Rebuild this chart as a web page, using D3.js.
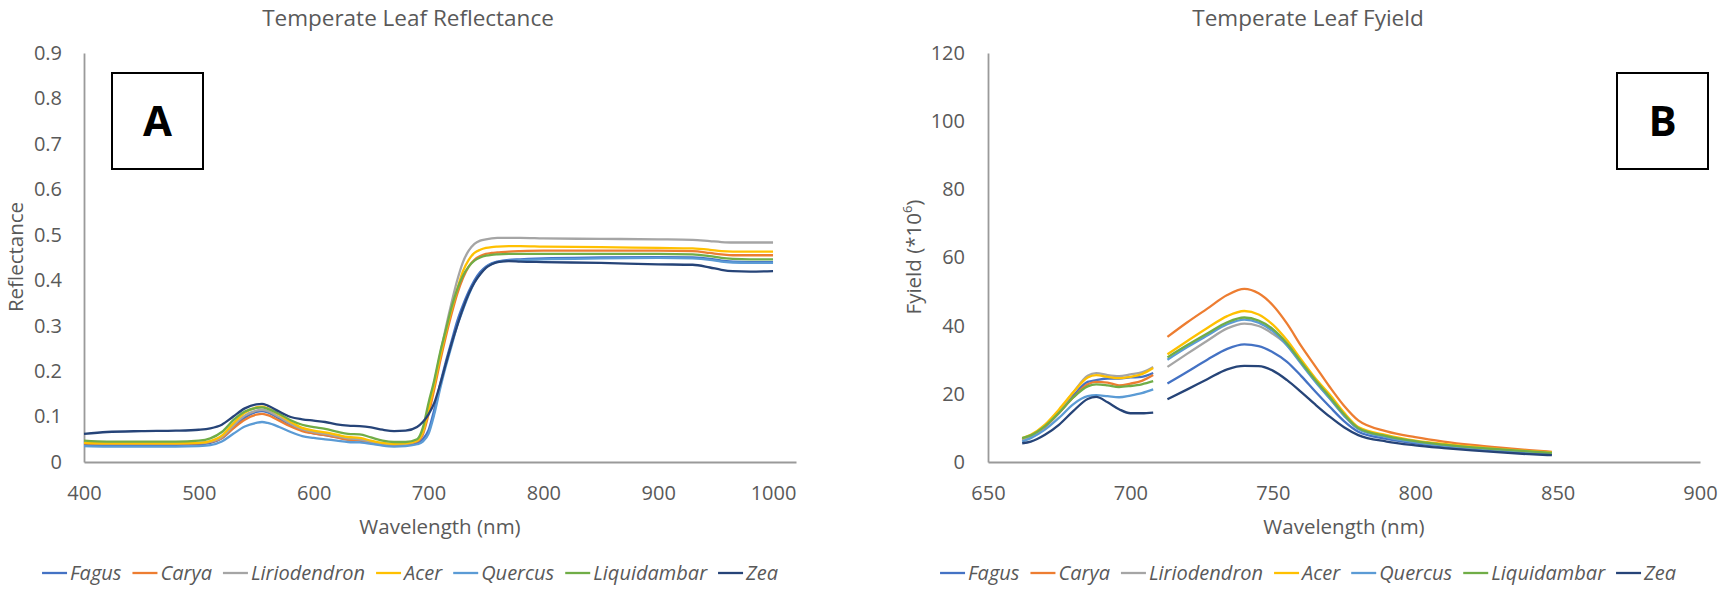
<!DOCTYPE html>
<html>
<head>
<meta charset="utf-8">
<script src="https://cdn.jsdelivr.net/npm/d3@7"></script>
<style>
  body { margin: 0; background: #fff; }
  text { font-family: "Open Sans", sans-serif; fill: #595959; }
  .axis path { stroke: #9a9a9a; stroke-width: 1.8; }
  .axis text { font-size: 20px; }
</style>
</head>
<body>
<svg id="fig" width="1720" height="605"></svg>
<script>
// species + Excel default series colours
const species = ["Fagus", "Carya", "Liriodendron", "Acer", "Quercus", "Liquidambar", "Zea"];
const speciesColor = ["#4472C4", "#ED7D31", "#A5A5A5", "#FFC000", "#5B9BD5", "#70AD47", "#264478"];

// Panel A: reflectance vs wavelength (nm)
const reflWl = [400,420,450,480,500, 510,520,530,540,550, 555,560,570,580,590, 600,610,620,630,640,
  650,660,670,680,690, 695,700,705,710,715, 720,725,730,735,740, 745,750,755,760,770,
  780,800,850,900,930, 945,955,965,980,1000];
const reflFagus = [0.038,0.038,0.038,0.038,0.039, 0.042,0.052,0.075,0.098,0.110, 0.112,0.109,0.096,0.082,0.070, 0.063,0.059,0.055,0.050,0.047,
  0.043,0.039,0.037,0.038,0.042, 0.050,0.070,0.115,0.170,0.220, 0.265,0.310,0.345,0.375,0.400, 0.418,0.430,0.437,0.441,0.445,
  0.446,0.448,0.450,0.451,0.450, 0.447,0.443,0.441,0.440,0.440];
const reflCarya = [0.041,0.040,0.040,0.040,0.041, 0.044,0.053,0.074,0.093,0.104, 0.106,0.103,0.091,0.078,0.068, 0.063,0.059,0.054,0.049,0.048,
  0.044,0.040,0.038,0.039,0.045, 0.060,0.105,0.160,0.220,0.275, 0.325,0.370,0.405,0.430,0.445, 0.453,0.458,0.460,0.461,0.463,
  0.464,0.465,0.465,0.465,0.464, 0.460,0.457,0.455,0.455,0.455];
const reflLiriodendron = [0.042,0.041,0.041,0.041,0.042, 0.045,0.055,0.080,0.102,0.113, 0.115,0.112,0.099,0.084,0.072, 0.066,0.062,0.057,0.052,0.050,
  0.045,0.041,0.039,0.040,0.047, 0.065,0.120,0.175,0.235,0.295, 0.350,0.400,0.440,0.465,0.480, 0.487,0.490,0.492,0.493,0.493,
  0.493,0.492,0.491,0.490,0.489, 0.486,0.484,0.483,0.483,0.483];
const reflAcer = [0.042,0.041,0.041,0.041,0.042, 0.046,0.058,0.085,0.108,0.120, 0.122,0.118,0.104,0.088,0.075, 0.069,0.065,0.060,0.055,0.053,
  0.047,0.042,0.040,0.041,0.047, 0.065,0.115,0.170,0.230,0.285, 0.335,0.380,0.420,0.445,0.460, 0.467,0.471,0.473,0.474,0.475,
  0.475,0.474,0.473,0.471,0.470, 0.467,0.464,0.463,0.463,0.463];
const reflQuercus = [0.035,0.034,0.034,0.034,0.035, 0.037,0.045,0.062,0.078,0.086, 0.088,0.086,0.077,0.066,0.057, 0.053,0.050,0.047,0.044,0.043,
  0.040,0.036,0.034,0.035,0.039, 0.045,0.062,0.105,0.160,0.210, 0.255,0.300,0.335,0.368,0.395, 0.414,0.428,0.436,0.440,0.443,
  0.444,0.446,0.448,0.449,0.448, 0.445,0.441,0.439,0.438,0.438];
const reflLiquidambar = [0.047,0.045,0.045,0.045,0.047, 0.052,0.066,0.092,0.111,0.119, 0.120,0.117,0.106,0.092,0.082, 0.077,0.073,0.067,0.062,0.061,
  0.054,0.047,0.044,0.044,0.050, 0.075,0.130,0.180,0.240,0.290, 0.340,0.380,0.410,0.430,0.443, 0.450,0.454,0.456,0.457,0.458,
  0.458,0.458,0.458,0.458,0.457, 0.453,0.449,0.447,0.446,0.446];
const reflZea = [0.062,0.066,0.068,0.069,0.071, 0.074,0.082,0.100,0.118,0.127, 0.128,0.124,0.111,0.099,0.094, 0.091,0.088,0.083,0.080,0.079,
  0.076,0.071,0.068,0.069,0.077, 0.088,0.105,0.130,0.170,0.215, 0.260,0.300,0.338,0.370,0.395, 0.413,0.427,0.435,0.440,0.442,
  0.441,0.440,0.438,0.435,0.434, 0.428,0.423,0.420,0.419,0.420];

// Panel B: Fyield (*10^6); null marks the gap in the spectrum
const fyWl = [662,665,670,675,680,685,688,692,696,700,704,708, 710.5,
  713,720,727,734,740,745,750,755,760,765,770,775,780,790,800,810,820,830,840,848];
const fyFagus = [6.5,7.5,10.3,14.5,19.5,23.5,24.0,24.5,24.5,24.8,25.0,26.1, null,
  23.0,26.5,30.0,33.2,34.5,34.0,32.2,29.4,25.2,20.6,16.2,12.0,8.9,6.8,5.5,4.6,3.9,3.3,2.8,2.3];
const fyCarya = [6.5,7.5,10.3,14.5,19.0,22.8,23.5,23.3,22.5,23.0,23.8,25.5, null,
  36.7,41.0,45.0,49.0,50.8,49.5,46.0,40.6,34.0,28.0,22.0,16.5,12.2,9.0,7.3,6.0,5.0,4.2,3.5,3.0];
const fyLiriodendron = [6.5,7.5,10.5,15.0,20.5,25.3,26.1,25.5,25.2,25.7,26.3,27.9, null,
  27.9,31.8,35.6,39.2,40.6,39.9,37.6,34.3,29.0,23.7,18.7,13.7,9.8,7.4,5.9,4.9,4.2,3.6,3.0,2.6];
const fyAcer = [7.0,8.0,11.0,15.5,20.5,24.8,25.5,25.0,24.6,25.0,25.8,27.6, null,
  31.6,35.5,39.3,42.8,44.3,43.3,40.3,35.7,30.0,24.5,19.8,14.5,10.3,7.9,6.3,5.3,4.5,3.8,3.2,2.8];
const fyQuercus = [6.0,7.0,9.5,13.0,17.0,19.3,19.6,19.3,19.0,19.5,20.2,21.3, null,
  30.0,33.7,37.1,40.4,41.8,40.9,38.4,34.2,28.8,23.5,18.6,13.6,9.7,7.3,5.8,4.8,4.1,3.5,2.9,2.5];
const fyLiquidambar = [7.0,7.8,10.5,14.5,19.0,22.2,22.8,22.5,22.0,22.3,22.8,23.7, null,
  30.7,34.3,37.7,41.0,42.4,41.5,39.0,34.8,29.3,24.0,19.1,14.0,10.0,7.6,6.1,5.1,4.3,3.7,3.1,2.7];
const fyZea = [5.5,6.0,8.0,11.0,15.0,18.5,19.1,17.5,15.5,14.3,14.3,14.5, null,
  18.4,21.3,24.3,27.2,28.2,28.1,26.8,24.0,20.5,16.8,13.3,10.2,7.9,6.0,4.9,4.1,3.4,2.8,2.3,2.0];

const reflTicksX = [400, 500, 600, 700, 800, 900, 1000];
const reflTicksY = [0, 0.1, 0.2, 0.3, 0.4, 0.5, 0.6, 0.7, 0.8, 0.9];
const fyTicksX = [650, 700, 750, 800, 850, 900];
const fyTicksY = [0, 20, 40, 60, 80, 100, 120];

const reflSeries = [reflFagus, reflCarya, reflLiriodendron, reflAcer, reflQuercus, reflLiquidambar, reflZea];
const fySeries = [fyFagus, fyCarya, fyLiriodendron, fyAcer, fyQuercus, fyLiquidambar, fyZea];

const svg = d3.select("#fig");

function panel(opt) {
  const x = d3.scaleLinear().domain(opt.xDomain).range([opt.left, opt.right]);
  const y = d3.scaleLinear().domain(opt.yDomain).range([462, 53]);

  svg.append("g").attr("class", "axis")
    .attr("transform", "translate(0,462)")
    .call(d3.axisBottom(x).tickValues(opt.xTicks).tickSize(0).tickPadding(24).tickFormat(d3.format("d")))
    .call(g => g.selectAll("text").attr("fill", "#595959"));

  svg.append("g").attr("class", "axis")
    .attr("transform", `translate(${opt.left},0)`)
    .call(d3.axisLeft(y).tickValues(opt.yTicks).tickSize(0).tickPadding(opt.yPad).tickFormat(opt.yFmt))
    .call(g => g.selectAll("text").attr("fill", "#595959"));

  const line = d3.line()
    .defined(d => d[1] != null)
    .x(d => x(d[0]))
    .y(d => y(d[1]))
    .curve(d3.curveMonotoneX);

  opt.series.forEach((vals, i) => {
    svg.append("path")
      .datum(opt.wl.map((w, k) => [w, vals[k]]))
      .attr("fill", "none")
      .attr("stroke", speciesColor[i])
      .attr("stroke-width", 2.3)
      .attr("stroke-linejoin", "round")
      .attr("d", line);
  });

  // title + axis titles
  svg.append("text").attr("x", opt.titleX).attr("y", 18).attr("dy", "0.35em")
    .attr("text-anchor", "middle").attr("font-size", 22.5).text(opt.title);
  svg.append("text").attr("x", (opt.left + opt.right) / 2).attr("y", 527).attr("dy", "0.35em")
    .attr("text-anchor", "middle").attr("font-size", 20.5).text("Wavelength (nm)");
  const yt = svg.append("text")
    .attr("transform", `translate(${opt.yTitleX},257) rotate(-90)`)
    .attr("dy", "0.35em").attr("text-anchor", "middle").attr("font-size", 20.5)
    .text(opt.yTitle);
  if (opt.yTitleSup) {
    yt.text(opt.yTitle);
    yt.append("tspan").attr("font-size", 13).attr("dy", "-0.7em").text(opt.yTitleSup);
    yt.append("tspan").attr("dy", "0.45em").text(")");
  }

  // panel letter box
  svg.append("rect").attr("x", opt.box[0]).attr("y", 73).attr("width", 91).attr("height", 96)
    .attr("fill", "#fff").attr("stroke", "#000").attr("stroke-width", 2);
  svg.append("text").attr("x", opt.box[0] + 45.5).attr("y", 121).attr("dy", "0.36em")
    .attr("text-anchor", "middle").attr("font-size", 42).attr("font-weight", "bold")
    .style("fill", "#000").text(opt.letter);

  // legend, centred under the panel
  const lg = svg.append("g");
  let cx = 0;
  species.forEach((s, i) => {
    lg.append("line").attr("x1", cx).attr("x2", cx + 25).attr("y1", 0).attr("y2", 0)
      .attr("stroke", speciesColor[i]).attr("stroke-width", 2.3);
    const t = lg.append("text").attr("x", cx + 28).attr("y", 0).attr("dy", "0.35em")
      .attr("font-size", 20).attr("font-style", "italic").text(s);
    cx += 28 + t.node().getComputedTextLength() + 11;
  });
  cx -= 11;
  lg.attr("transform", `translate(${opt.legendCx - cx / 2},573)`);
}

panel({
  xDomain: [400, 1020], yDomain: [0, 0.9], left: 84, right: 796,
  xTicks: reflTicksX, yTicks: reflTicksY, yPad: 22,
  yFmt: d => d === 0 ? "0" : d3.format(".1f")(d),
  wl: reflWl, series: reflSeries,
  title: "Temperate Leaf Reflectance", titleX: 408,
  yTitle: "Reflectance", yTitleX: 16,
  box: [112], letter: "A", legendCx: 410
});

panel({
  xDomain: [650, 900], yDomain: [0, 120], left: 988, right: 1700,
  xTicks: fyTicksX, yTicks: fyTicksY, yPad: 23,
  yFmt: d3.format("d"),
  wl: fyWl, series: fySeries,
  title: "Temperate Leaf Fyield", titleX: 1308,
  yTitle: "Fyield (*10", yTitleSup: "6", yTitleX: 914,
  box: [1617], letter: "B", legendCx: 1308
});
</script>
</body>
</html>
